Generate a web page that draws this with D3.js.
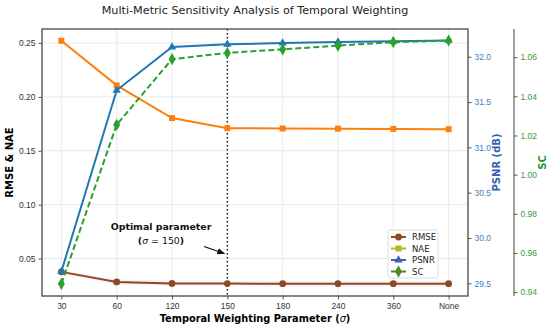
<!DOCTYPE html>
<html>
<head>
<meta charset="utf-8">
<script src="https://cdn.jsdelivr.net/npm/d3@7"></script>
<style>
  body { margin: 0; background: #fff; }
  svg { font-family: "DejaVu Sans", sans-serif; }
</style>
</head>
<body>
<div id="chart"></div>
<script>
const categories = ["30", "60", "120", "150", "180", "240", "360", "None"];
const rmse = [0.0376, 0.0283, 0.0268, 0.0267, 0.0266, 0.0266, 0.0266, 0.0266];
const nae = [0.2521, 0.2107, 0.1803, 0.1710, 0.1707, 0.1705, 0.1703, 0.1700];
const psnr = [29.63, 31.63, 32.107, 32.137, 32.151, 32.162, 32.170, 32.180];
const sc = [0.9442, 1.0255, 1.0590, 1.0622, 1.0640, 1.0659, 1.0677, 1.0685];
const leftTicks = [0.05, 0.10, 0.15, 0.20, 0.25];
const psnrTicks = [29.5, 30.0, 30.5, 31.0, 31.5, 32.0];
const scTicks = [0.94, 0.96, 0.98, 1.00, 1.02, 1.04, 1.06];
const optimal = "150";

const width = 550, height = 328;
const plot = { left: 42, right: 468, top: 29, bottom: 296 };

const svg = d3.select("#chart").append("svg")
  .attr("width", width).attr("height", height);

const x = d3.scalePoint().domain(categories)
  .range([plot.left, plot.right]).padding(0.35);
const yLeft = d3.scaleLinear().domain([0.0152, 0.263]).range([plot.bottom, plot.top]);
const yPsnr = d3.scaleLinear().domain([29.36, 32.306]).range([plot.bottom, plot.top]);
const ySc = d3.scaleLinear().domain([0.938, 1.0744]).range([plot.bottom, plot.top]);

// grid
const grid = svg.append("g").attr("stroke", "#e4e4e4").attr("stroke-width", 0.8);
grid.selectAll("line.v").data(categories).join("line")
  .attr("x1", d => x(d)).attr("x2", d => x(d))
  .attr("y1", plot.top).attr("y2", plot.bottom);
grid.selectAll("line.h").data(leftTicks).join("line")
  .attr("x1", plot.left).attr("x2", plot.right)
  .attr("y1", d => yLeft(d)).attr("y2", d => yLeft(d));

// faint band around rmse
svg.append("path")
  .datum(rmse)
  .attr("fill", "#ff80b0").attr("opacity", 0.12)
  .attr("d", d3.area()
    .x((d, i) => x(categories[i]))
    .y0(d => yLeft(d - 0.0025))
    .y1(d => yLeft(d + 0.0025)));

// optimal line
svg.append("line")
  .attr("x1", x(optimal)).attr("x2", x(optimal))
  .attr("y1", plot.top).attr("y2", plot.bottom)
  .attr("stroke", "#222").attr("stroke-width", 1.5)
  .attr("stroke-dasharray", "1.5,2.5");

const series = [
  { name: "RMSE", values: rmse, y: yLeft, color: "#8b4a26", legend: "#8b4a26", marker: "circle", dash: null },
  { name: "NAE", values: nae, y: yLeft, color: "#ff7f0e", legend: "#b5b81a", marker: "square", dash: null },
  { name: "PSNR", values: psnr, y: yPsnr, color: "#1f77b4", legend: "#3a5fc0", marker: "triangle", dash: null },
  { name: "SC", values: sc, y: ySc, color: "#2ca02c", legend: "#4e8a2a", marker: "diamond", dash: "6,3" }
];

const symbols = {
  circle: d3.symbol().type(d3.symbolCircle).size(36),
  square: d3.symbol().type(d3.symbolSquare).size(36),
  triangle: d3.symbol().type(d3.symbolTriangle).size(30),
  diamond: d3.symbol().type(d3.symbolDiamond).size(42)
};

const marks = svg.append("g");
series.forEach(s => {
  const line = d3.line().x((d, i) => x(categories[i])).y(d => s.y(d));
  marks.append("path").datum(s.values)
    .attr("fill", "none").attr("stroke", s.color).attr("stroke-width", 2)
    .attr("stroke-dasharray", s.dash).attr("d", line);
  marks.selectAll(null).data(s.values).join("path")
    .attr("transform", (d, i) => `translate(${x(categories[i])},${s.y(d)})`)
    .attr("d", symbols[s.marker]())
    .attr("fill", s.color);
});

// frame
svg.append("rect")
  .attr("x", plot.left).attr("y", plot.top)
  .attr("width", plot.right - plot.left).attr("height", plot.bottom - plot.top)
  .attr("fill", "none").attr("stroke", "#555").attr("stroke-width", 1.4);

// axes
const styleAxis = (g, color) => {
  g.select(".domain").remove();
  g.selectAll(".tick line").attr("stroke", "#555");
  g.selectAll(".tick text").attr("fill", color).style("font-size", "8.5px");
};

svg.append("g").attr("transform", `translate(0,${plot.bottom})`)
  .call(d3.axisBottom(x).tickSize(3.5).tickPadding(3))
  .call(g => styleAxis(g, "#333"));

svg.append("g").attr("transform", `translate(${plot.left},0)`)
  .call(d3.axisLeft(yLeft).tickValues(leftTicks).tickFormat(d3.format(".2f")).tickSize(3.5).tickPadding(3))
  .call(g => styleAxis(g, "#333"));

svg.append("g").attr("transform", `translate(${plot.right},0)`)
  .call(d3.axisRight(yPsnr).tickValues(psnrTicks).tickFormat(d3.format(".1f")).tickSize(3.5).tickPadding(3))
  .call(g => styleAxis(g, "#3a7fc0"));

const scX = 514;
svg.append("line").attr("x1", scX).attr("x2", scX)
  .attr("y1", plot.top).attr("y2", plot.bottom)
  .attr("stroke", "#777").attr("stroke-width", 1.4);
svg.append("g").attr("transform", `translate(${scX},0)`)
  .call(d3.axisRight(ySc).tickValues(scTicks).tickFormat(d3.format(".2f")).tickSize(3.5).tickPadding(3))
  .call(g => styleAxis(g, "#3a9a3a"));

// titles
svg.append("text").attr("x", (plot.left + plot.right) / 2).attr("y", 14)
  .attr("text-anchor", "middle").style("font-size", "11.2px").attr("fill", "#222")
  .text("Multi-Metric Sensitivity Analysis of Temporal Weighting");

svg.append("text").attr("x", (plot.left + plot.right) / 2).attr("y", 322)
  .attr("text-anchor", "middle").style("font-size", "9.8px").style("font-weight", "bold")
  .html('Temporal Weighting Parameter (<tspan font-style="italic" font-weight="normal">σ</tspan>)');

svg.append("text")
  .attr("transform", `translate(13,${(plot.top + plot.bottom) / 2}) rotate(-90)`)
  .attr("text-anchor", "middle").style("font-size", "10px").style("font-weight", "bold")
  .text("RMSE & NAE");

svg.append("text")
  .attr("transform", `translate(500,${(plot.top + plot.bottom) / 2}) rotate(-90)`)
  .attr("text-anchor", "middle").style("font-size", "10px").style("font-weight", "bold")
  .attr("fill", "#3360b0").text("PSNR (dB)");

svg.append("text")
  .attr("transform", `translate(546,${(plot.top + plot.bottom) / 2}) rotate(-90)`)
  .attr("text-anchor", "middle").style("font-size", "10px").style("font-weight", "bold")
  .attr("fill", "#2a9a2a").text("SC");

// annotation
const ann = svg.append("g").style("font-size", "9.4px").style("font-weight", "bold").attr("fill", "#111");
ann.append("text").attr("x", 161).attr("y", 230).attr("text-anchor", "middle").text("Optimal parameter");
ann.append("text").attr("x", 161).attr("y", 244).attr("text-anchor", "middle")
  .html('(<tspan font-style="italic" font-weight="normal">σ</tspan><tspan font-weight="normal"> = 150</tspan>)');

svg.append("defs").append("marker")
  .attr("id", "arrow").attr("viewBox", "0 0 10 10").attr("refX", 9).attr("refY", 5)
  .attr("markerWidth", 6).attr("markerHeight", 6).attr("orient", "auto")
  .append("path").attr("d", "M0,1 L10,5 L0,9 z").attr("fill", "#111");
svg.append("line")
  .attr("x1", 204).attr("y1", 246.5).attr("x2", x(optimal) - 3).attr("y2", 253.5)
  .attr("stroke", "#111").attr("stroke-width", 1.3).attr("marker-end", "url(#arrow)");

// legend
const lg = svg.append("g").attr("transform", "translate(388,230)");
lg.append("rect").attr("width", 50).attr("height", 48).attr("rx", 2)
  .attr("fill", "#fff").attr("fill-opacity", 0.85).attr("stroke", "#ddd");
series.forEach((s, i) => {
  const yy = 7 + i * 11.5;
  lg.append("line").attr("x1", 3).attr("x2", 18).attr("y1", yy).attr("y2", yy)
    .attr("stroke", s.legend).attr("stroke-width", 2);
  lg.append("path").attr("transform", `translate(10.5,${yy})`)
    .attr("d", symbols[s.marker]()).attr("fill", s.legend);
  lg.append("text").attr("x", 24).attr("y", yy + 3).style("font-size", "8.5px")
    .attr("fill", "#222").text(s.name);
});
</script>
</body>
</html>
